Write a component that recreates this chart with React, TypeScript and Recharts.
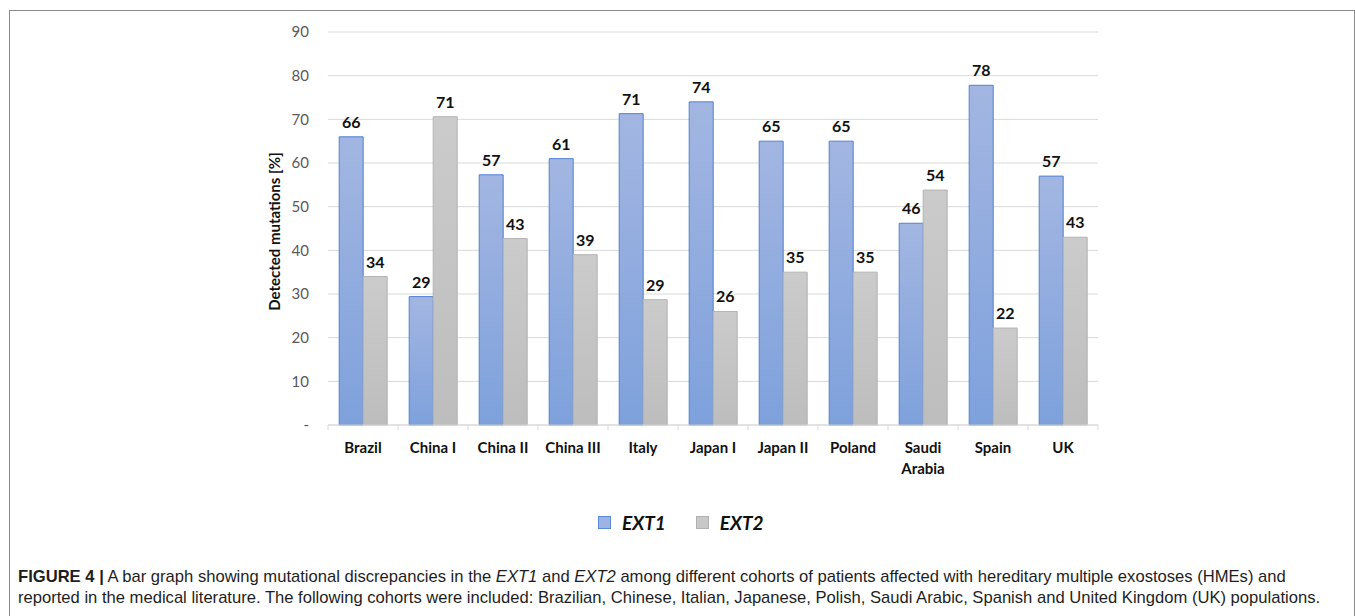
import {
    BarChart,
    Bar,
    XAxis,
    YAxis,
    CartesianGrid,
    Legend,
    LabelList,
    Text,
} from "recharts";

const categories = [
    "Brazil",
    "China I",
    "China II",
    "China III",
    "Italy",
    "Japan I",
    "Japan II",
    "Poland",
    "Saudi Arabia",
    "Spain",
    "UK",
];
const ext1Values = [66, 29.4, 57.3, 61, 71.3, 74, 65, 65, 46.2, 77.8, 57];
const ext2Values = [34, 70.6, 42.7, 39, 28.7, 26, 35, 35, 53.8, 22.2, 43];
const yTicks = [0, 10, 20, 30, 40, 50, 60, 70, 80, 90];

const data = categories.map((name, i) => ({
    name,
    ext1: ext1Values[i],
    ext2: ext2Values[i],
}));

const FONT = "Lato, 'Noto Sans', sans-serif";
const GRID = "#d9d9d9";

const CategoryTick = (props: any) => {
    const { x, y, payload, index, width } = props;
    const half = width / categories.length / 2;
    return (
        <g>
            <line x1={x - half} y1={y} x2={x - half} y2={y + 5} stroke={GRID} />
            {index === categories.length - 1 && (
                <line x1={x + half} y1={y} x2={x + half} y2={y + 5} stroke={GRID} />
            )}
            <Text
                x={x}
                y={y + 17}
                width={half * 2 - 4}
                textAnchor="middle"
                verticalAnchor="start"
                lineHeight={21}
                fontFamily={FONT}
                fontSize={15}
                fontWeight={700}
                fill="#111"
            >
                {payload.value}
            </Text>
        </g>
    );
};

const LegendBox = () => (
    <div style={{ display: "flex", alignItems: "center", height: 24, fontFamily: FONT }}>
        <span style={{ width: 11, height: 11, background: "#9db3e3", border: "1px solid #5b8bd6", display: "inline-block" }} />
        <span style={{ marginLeft: 11, fontSize: 19, fontWeight: 700, fontStyle: "italic", color: "#111" }}>EXT1</span>
        <span style={{ marginLeft: 30, width: 11, height: 11, background: "#c8c8c8", border: "1px solid #b0b0b0", display: "inline-block" }} />
        <span style={{ marginLeft: 11, fontSize: 19, fontWeight: 700, fontStyle: "italic", color: "#111" }}>EXT2</span>
    </div>
);

export default function App() {
    return (
        <div>
            <div
                style={{
                    position: "absolute",
                    left: 9,
                    top: 10,
                    width: 1346,
                    height: 606,
                    boxSizing: "border-box",
                    borderTop: "1px solid #8a8a8a",
                    borderLeft: "1px solid #8a8a8a",
                    borderRight: "1px solid #8a8a8a",
                }}
            />
            <div style={{ position: "absolute", left: 0, top: 0 }}>
                <BarChart
                    width={1355}
                    height={545}
                    data={data}
                    margin={{ top: 32, right: 257, bottom: 90, left: 250 }}
                    barGap={0}
                    barCategoryGap="16%"
                >
                    <defs>
                        <linearGradient id="gExt1" x1="0" y1="0" x2="0" y2="1">
                            <stop offset="0%" stopColor="#a3b6e2" />
                            <stop offset="100%" stopColor="#7ea1dc" />
                        </linearGradient>
                        <linearGradient id="gExt2" x1="0" y1="0" x2="0" y2="1">
                            <stop offset="0%" stopColor="#cbcbcb" />
                            <stop offset="100%" stopColor="#bdbdbd" />
                        </linearGradient>
                    </defs>
                    <CartesianGrid vertical={false} stroke={GRID} />
                    <XAxis
                        dataKey="name"
                        interval={0}
                        tickLine={false}
                        tickSize={0}
                        tickMargin={0}
                        height={30}
                        axisLine={{ stroke: GRID }}
                        tick={<CategoryTick />}
                    />
                    <YAxis
                        width={78}
                        domain={[0, 90]}
                        ticks={yTicks}
                        interval={0}
                        axisLine={false}
                        tickLine={false}
                        tickSize={0}
                        tickMargin={19}
                        tickFormatter={(v) => (v === 0 ? "-" : String(v))}
                        tick={{ fontFamily: FONT, fontSize: 15, fill: "#595959" }}
                        label={{
                            content: (p: any) => {
                                const vb = p.viewBox || {};
                                const cx = vb.x + 24;
                                const cy = vb.y + vb.height / 2 + 3;
                                return (
                                    <text
                                        x={cx}
                                        y={cy}
                                        transform={`rotate(-90 ${cx} ${cy})`}
                                        textAnchor="middle"
                                        dominantBaseline="central"
                                        fontFamily={FONT}
                                        fontSize={15}
                                        fontWeight={700}
                                        fill="#111"
                                    >
                                        Detected mutations [%]
                                    </text>
                                );
                            },
                        }}
                    />
                    <Legend
                        layout="horizontal"
                        verticalAlign="middle"
                        align="center"
                        content={<LegendBox />}
                        wrapperStyle={{ left: 598, top: 510, width: "auto" }}
                    />
                    <Bar dataKey="ext1" name="EXT1" fill="url(#gExt1)" stroke="#4f81d2" strokeWidth={1} isAnimationActive={false}>
                        <LabelList
                            dataKey="ext1"
                            position="top"
                            offset={9}
                            formatter={(v: any) => Math.round(Number(v))}
                            fontFamily={FONT}
                            fontSize={16}
                            fontWeight={700}
                            fill="#111"
                        />
                    </Bar>
                    <Bar dataKey="ext2" name="EXT2" fill="url(#gExt2)" stroke="#b3b3b3" strokeWidth={1} isAnimationActive={false}>
                        <LabelList
                            dataKey="ext2"
                            position="top"
                            offset={9}
                            formatter={(v: any) => Math.round(Number(v))}
                            fontFamily={FONT}
                            fontSize={16}
                            fontWeight={700}
                            fill="#111"
                        />
                    </Bar>
                </BarChart>
            </div>
            <div
                style={{
                    position: "absolute",
                    left: 18,
                    top: 566,
                    fontFamily: "'Liberation Sans', Arial, sans-serif",
                    fontSize: 16.6,
                    lineHeight: "21px",
                    color: "#1e1e1e",
                    whiteSpace: "nowrap",
                }}
            >
                <b>FIGURE 4 |</b> A bar graph showing mutational discrepancies in the <i>EXT1</i> and <i>EXT2</i> among
                different cohorts of patients affected with hereditary multiple exostoses (HMEs) and
                <br />
                reported in the medical literature. The following cohorts were included: Brazilian, Chinese, Italian,
                Japanese, Polish, Saudi Arabic, Spanish and United Kingdom (UK) populations.
            </div>
        </div>
    );
}
